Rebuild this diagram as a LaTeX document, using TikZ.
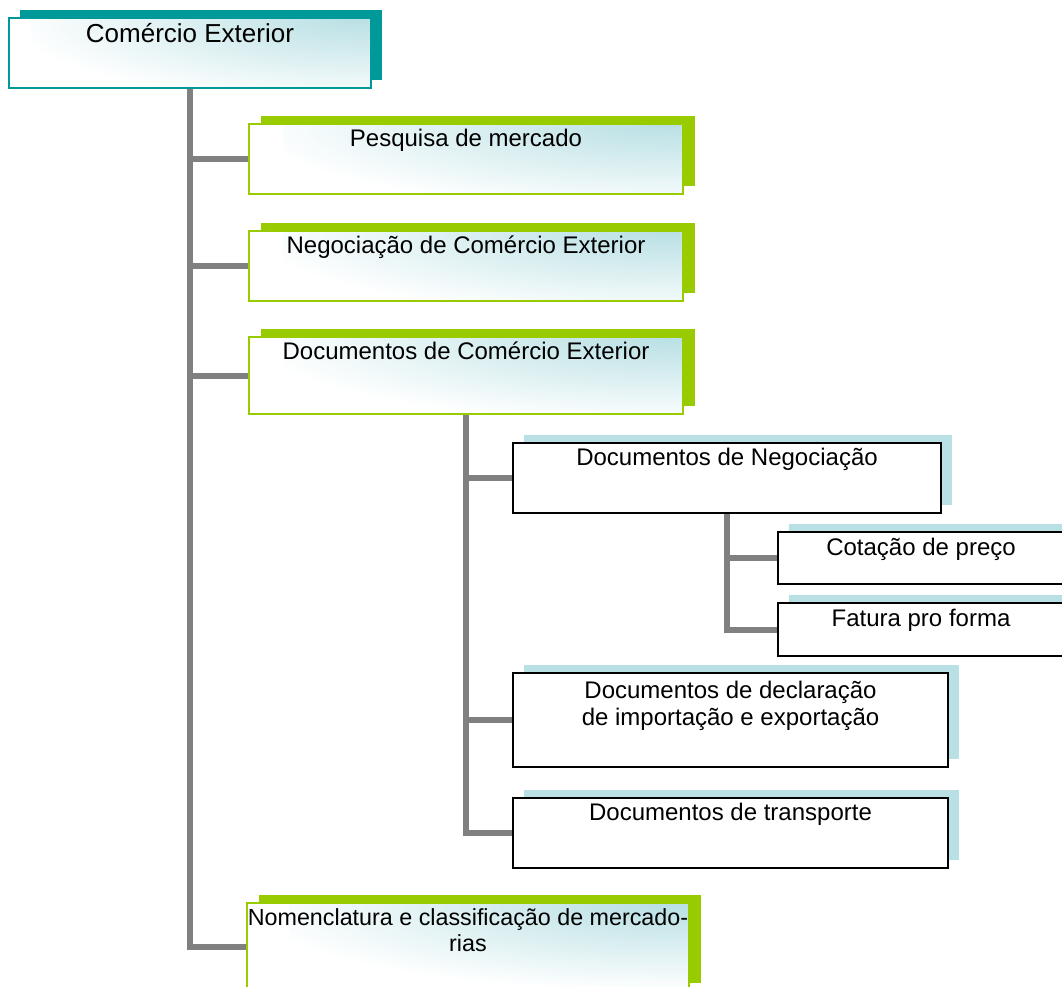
\documentclass[tikz,border=0pt]{standalone}
\usepackage{fontspec}
\setmainfont{Liberation Sans}
\definecolor{tealc}{RGB}{0,153,153}
\definecolor{greenc}{RGB}{153,204,0}
\definecolor{lblue}{RGB}{185,224,228}
\definecolor{grayc}{RGB}{128,128,128}
\pgfdeclarelayer{bg}
\pgfsetlayers{bg,main}
\tikzset{
  base/.style={rectangle, inner sep=0pt, outer sep=0pt, line width=2pt},
  grad/.style={fill=white, path picture={
     \shade[inner color=lblue, outer color=white]
       ([xshift=-#1, yshift=-85pt]path picture bounding box.north east) rectangle
       ([xshift=#1, yshift=85pt]path picture bounding box.north east);
  }},
  grad/.default=400pt,
  rootbox/.style={base, draw=tealc, grad=340pt, preaction={fill=tealc, transform canvas={xshift=11pt, yshift=8pt}}},
  greenbox/.style={base, draw=greenc, grad, preaction={fill=greenc, transform canvas={xshift=12pt, yshift=8pt}}},
  whitebox/.style={base, draw=black, line width=1.8pt, fill=white, preaction={fill=lblue, transform canvas={xshift=11pt, yshift=8pt}}},
  lbl/.style={font=\fontsize{24}{27}\selectfont, align=center, anchor=base, inner sep=0pt},
  conn/.style={draw=grayc, line width=6pt, line join=miter},
}
\begin{document}
\begin{tikzpicture}[x=1pt, y=-1pt]
\useasboundingbox (0,0) rectangle (1062,987);
\clip (0,0) rectangle (1062,987);

% boxes
\node[rootbox, minimum width=362pt, minimum height=70pt] (root) at (190,53) {};
\node[greenbox, minimum width=434pt, minimum height=70pt] (pesq) at (466,159) {};
\node[greenbox, minimum width=434pt, minimum height=70pt] (neg) at (466,266) {};
\node[greenbox, minimum width=434pt, minimum height=77pt] (doc) at (466,375.5) {};
\node[whitebox, minimum width=428pt, minimum height=70pt] (docneg) at (727,478) {};
\node[whitebox, minimum width=286pt, minimum height=52pt] (cot) at (921,558) {};
\node[whitebox, minimum width=286pt, minimum height=53pt] (fat) at (921,629.5) {};
\node[whitebox, minimum width=435pt, minimum height=94pt] (decl) at (730.5,720) {};
\node[whitebox, minimum width=435pt, minimum height=70pt] (transp) at (730.5,833) {};
\node[greenbox, minimum width=442pt, minimum height=88pt] (nomen) at (468,947) {};

% texts
\node[lbl, font=\fontsize{26}{29}\selectfont] (root-t) at ([yshift=-25pt]root.north) {Comércio Exterior};
\node[lbl] (pesq-t) at ([yshift=-23pt]pesq.north) {Pesquisa de mercado};
\node[lbl] (neg-t) at ([yshift=-22pt]neg.north) {Negociação de Comércio Exterior};
\node[lbl] (doc-t) at ([yshift=-22pt]doc.north) {Documentos de Comércio Exterior};
\node[lbl] (docneg-t) at ([yshift=-22pt]docneg.north) {Documentos de Negociação};
\node[lbl] (cot-t) at ([yshift=-23pt]cot.north) {Cotação de preço};
\node[lbl] (fat-t) at ([yshift=-23pt]fat.north) {Fatura pro forma};
\node[lbl] (decl-t) at ([yshift=-52pt]decl.north) {Documentos de declaração\\de importação e exportação};
\node[lbl] (transp-t) at ([yshift=-22pt]transp.north) {Documentos de transporte};
\node[lbl, font=\fontsize{23.3}{26}\selectfont] (nomen-t) at ([yshift=-48pt]nomen.north) {Nomenclatura e classificação de mercado-\\rias};

% connectors
\begin{pgfonlayer}{bg}
\draw[conn] (root.south) |- (pesq.west);
\draw[conn] (root.south) |- (neg.west);
\draw[conn] (root.south) |- (doc.west);
\draw[conn] (root.south) |- (nomen.west);
\draw[conn] (doc.south) |- (docneg.west);
\draw[conn] (doc.south) |- (decl.west);
\draw[conn] (doc.south) |- (transp.west);
\draw[conn] (docneg.south) |- (cot.west);
\draw[conn] (docneg.south) |- (fat.west);
\end{pgfonlayer}
\end{tikzpicture}
\end{document}
